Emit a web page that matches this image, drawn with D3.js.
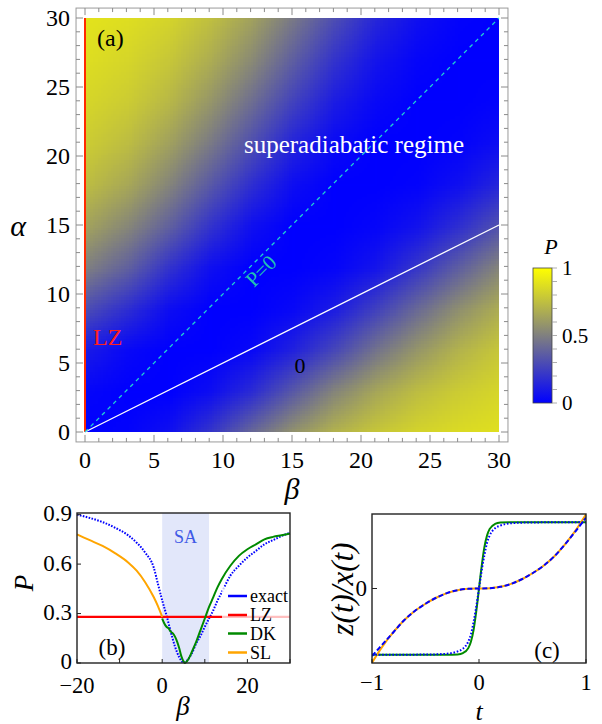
<!DOCTYPE html>
<html>
<head>
<meta charset="utf-8">
<script src="https://cdn.jsdelivr.net/npm/d3@7"></script>
<style>
body { margin: 0; background: #fff; }
svg { display: block; }
</style>
</head>
<body>
<div id="chart"></div>
<script>
var width = 602;
var height = 724;

// panel (a): P on a 3x3 grid of (beta, alpha), rows go up in alpha
var gridBeta = [0, 3, 6, 9, 12, 15, 18, 21, 24, 27, 30];
var gridAlpha = [0, 3, 6, 9, 12, 15, 18, 21, 24, 27, 30];
var gridP = [
    [0.00, 0.01, 0.06, 0.21, 0.41, 0.58, 0.70, 0.78, 0.83, 0.86, 0.88],
    [0.02, 0.00, 0.00, 0.05, 0.17, 0.35, 0.52, 0.65, 0.74, 0.80, 0.84],
    [0.10, 0.03, 0.00, 0.00, 0.03, 0.13, 0.28, 0.45, 0.59, 0.70, 0.78],
    [0.30, 0.18, 0.05, 0.00, 0.00, 0.03, 0.11, 0.25, 0.41, 0.56, 0.68],
    [0.50, 0.38, 0.20, 0.06, 0.00, 0.00, 0.02, 0.08, 0.21, 0.37, 0.52],
    [0.64, 0.53, 0.38, 0.20, 0.06, 0.00, 0.00, 0.02, 0.07, 0.18, 0.32],
    [0.74, 0.66, 0.52, 0.35, 0.18, 0.05, 0.00, 0.00, 0.01, 0.06, 0.15],
    [0.80, 0.74, 0.63, 0.48, 0.31, 0.14, 0.04, 0.00, 0.00, 0.01, 0.05],
    [0.84, 0.80, 0.72, 0.59, 0.43, 0.26, 0.11, 0.03, 0.00, 0.00, 0.01],
    [0.87, 0.84, 0.78, 0.68, 0.54, 0.37, 0.20, 0.08, 0.02, 0.00, 0.00],
    [0.89, 0.87, 0.83, 0.75, 0.63, 0.47, 0.30, 0.15, 0.06, 0.01, 0.00]
];
var ticksA = [0, 5, 10, 15, 20, 25, 30];
var colorbarTicks = [0, 0.5, 1];

// panel (b)
var exactBeta = [-20, -17, -14, -11, -8, -6, -4, -2, -1, 0, 1, 2, 3, 4, 5, 5.5, 6, 7, 8, 9, 10, 11, 12, 13, 14, 16, 18, 20, 22, 24, 26, 28, 30];
var exactP = [0.90, 0.88, 0.855, 0.82, 0.775, 0.73, 0.67, 0.58, 0.48, 0.38, 0.29, 0.19, 0.10, 0.035, 0.003, 0.005, 0.02, 0.06, 0.12, 0.165, 0.22, 0.27, 0.32, 0.38, 0.43, 0.53, 0.59, 0.64, 0.68, 0.72, 0.745, 0.77, 0.79];
var dkBeta = [0, 0.5, 1, 1.5, 2, 2.5, 3, 3.5, 4, 4.5, 5, 5.3, 5.8, 6.5, 7, 8, 9, 10, 11, 12, 13, 14, 16, 18, 20, 22, 24, 26, 28, 30];
var dkP = [0.27, 0.24, 0.22, 0.21, 0.19, 0.18, 0.16, 0.13, 0.09, 0.04, 0.01, 0.0, 0.01, 0.04, 0.07, 0.13, 0.20, 0.27, 0.34, 0.40, 0.46, 0.51, 0.59, 0.65, 0.69, 0.72, 0.75, 0.765, 0.775, 0.785];
var slBeta = [-20, -17, -14, -11, -8, -6, -4, -2, -1, 0];
var slP = [0.78, 0.745, 0.71, 0.665, 0.61, 0.56, 0.49, 0.40, 0.345, 0.28];
var lzP = 0.28;
var saRange = [0, 11];
var ticksBx = [-20, 0, 20];
var ticksBy = [0, 0.3, 0.6, 0.9];
var legendNames = ['exact', 'LZ', 'DK', 'SL'];

// panel (c)
var tCubic = [-1, -0.9, -0.8, -0.7, -0.6, -0.5, -0.4, -0.3, -0.2, -0.1, 0, 0.1, 0.2, 0.3, 0.4, 0.5, 0.6, 0.7, 0.8, 0.9, 1];
var slCubic = [-1.12, -0.87, -0.66, -0.48, -0.34, -0.23, -0.14, -0.07, -0.025, -0.005, 0, 0.005, 0.025, 0.07, 0.14, 0.23, 0.34, 0.48, 0.66, 0.87, 1.12];
var exactCubic = [-1.02, -0.84, -0.66, -0.48, -0.34, -0.23, -0.14, -0.07, -0.025, -0.005, 0, 0.005, 0.025, 0.07, 0.14, 0.23, 0.34, 0.48, 0.66, 0.86, 1.07];
var tStep = [-1, -0.5, -0.3, -0.2, -0.15, -0.1, -0.075, -0.05, -0.03, -0.015, 0, 0.015, 0.03, 0.05, 0.075, 0.1, 0.15, 0.2, 0.3, 0.5, 1];
var dkStep = [-1, -1, -1, -0.995, -0.975, -0.9, -0.8, -0.62, -0.4, -0.21, 0, 0.21, 0.4, 0.62, 0.8, 0.9, 0.975, 0.995, 1, 1, 1];
var exactStep = [-1, -0.998, -0.985, -0.95, -0.91, -0.8, -0.69, -0.5, -0.32, -0.165, 0, 0.165, 0.32, 0.5, 0.69, 0.8, 0.91, 0.95, 0.985, 0.998, 1];
var ticksCx = [-1, 0, 1];
var ticksCy = [0];

var blue = '#0000ff', red = '#ff0000', green = '#008a00', orange = '#ffa500';
var pColor = d3.interpolateRgb('#0000ff', '#ffff00');
var serif = '"Times New Roman", "Liberation Serif", Times, serif';

var svg = d3.select('#chart').append('svg')
    .attr('width', width)
    .attr('height', height)
    .attr('font-family', serif);
svg.append('rect').attr('width', width).attr('height', height).attr('fill', '#fff');

function label(x, y, txt, size, opts) {
    opts = opts || {};
    var t = svg.append('text')
        .attr('x', x).attr('y', y)
        .attr('text-anchor', opts.anchor || 'middle')
        .attr('dominant-baseline', 'central')
        .attr('font-size', size)
        .attr('fill', opts.fill || '#000')
        .text(txt);
    if (opts.italic) t.attr('font-style', 'italic');
    if (opts.rotate) {
        t.attr('x', null).attr('y', null)
            .attr('transform', 'translate(' + x + ',' + y + ') rotate(' + opts.rotate + ')');
    }
    return t;
}

// ---------- panel (a)
var xA = d3.scaleLinear().domain([0, 30]).range([85, 499]);
var yA = d3.scaleLinear().domain([0, 30]).range([432, 18]);

var canvas = document.createElement('canvas');
canvas.width = gridBeta.length;
canvas.height = gridAlpha.length;
var ctx = canvas.getContext('2d');
var img = ctx.createImageData(canvas.width, canvas.height);
for (var r = 0; r < gridAlpha.length; r++) {
    var row = gridP[gridAlpha.length - 1 - r];
    for (var c = 0; c < gridBeta.length; c++) {
        var col = d3.rgb(pColor(row[c]));
        var k = (r * canvas.width + c) * 4;
        img.data[k] = col.r; img.data[k + 1] = col.g; img.data[k + 2] = col.b; img.data[k + 3] = 255;
    }
}
ctx.putImageData(img, 0, 0);

var defs = svg.append('defs');
defs.append('clipPath').attr('id', 'clipA').append('rect')
    .attr('x', xA(0)).attr('y', yA(30))
    .attr('width', xA(30) - xA(0)).attr('height', yA(0) - yA(30));

var half = (gridBeta[1] - gridBeta[0]) / 2;
svg.append('image')
    .attr('clip-path', 'url(#clipA)')
    .attr('href', canvas.toDataURL())
    .attr('preserveAspectRatio', 'none')
    .attr('x', xA(-half)).attr('y', yA(30 + half))
    .attr('width', xA(30 + half) - xA(-half))
    .attr('height', yA(-half) - yA(30 + half));

// frame with ticks
var frameA = { x0: xA(-0.65), x1: xA(30.65), y0: yA(30.72), y1: yA(-0.72) };
svg.append('rect')
    .attr('x', frameA.x0).attr('y', frameA.y0)
    .attr('width', frameA.x1 - frameA.x0).attr('height', frameA.y1 - frameA.y0)
    .attr('fill', 'none').attr('stroke', '#9a9a9a').attr('stroke-width', 1);

var tickG = svg.append('g').attr('stroke', '#8a8a8a').attr('stroke-width', 1);
d3.range(0, 31, 1).forEach(function (v) {
    var len = v % 5 === 0 ? 7 : 4;
    tickG.append('line').attr('x1', xA(v)).attr('x2', xA(v)).attr('y1', frameA.y1).attr('y2', frameA.y1 - len);
    tickG.append('line').attr('x1', xA(v)).attr('x2', xA(v)).attr('y1', frameA.y0).attr('y2', frameA.y0 + len);
    tickG.append('line').attr('y1', yA(v)).attr('y2', yA(v)).attr('x1', frameA.x0).attr('x2', frameA.x0 + len);
    tickG.append('line').attr('y1', yA(v)).attr('y2', yA(v)).attr('x1', frameA.x1).attr('x2', frameA.x1 - len);
});

ticksA.forEach(function (v) {
    label(xA(v), 460, v, 24);
    label(70, yA(v), v, 24, { anchor: 'end' });
});
label(18, 225, 'α', 30, { italic: true });
label(292, 488, 'β', 30, { italic: true });

// overlay lines
svg.append('line')
    .attr('x1', xA(0)).attr('y1', yA(0)).attr('x2', xA(0)).attr('y2', yA(30))
    .attr('stroke', '#ff2a00').attr('stroke-width', 2);
svg.append('line')
    .attr('x1', xA(0)).attr('y1', yA(0)).attr('x2', xA(30)).attr('y2', yA(15))
    .attr('stroke', '#fff').attr('stroke-width', 1.3);
svg.append('line')
    .attr('x1', xA(0)).attr('y1', yA(0)).attr('x2', xA(30)).attr('y2', yA(30))
    .attr('stroke', '#1fd2d2').attr('stroke-width', 1.3)
    .attr('stroke-dasharray', '4,4');

label(97, 38, '(a)', 24, { anchor: 'start' });
label(354, 144, 'superadiabatic regime', 25, { fill: '#fff' });
label(261, 271, 'P=0', 21, { fill: '#22c2b2', rotate: -45 });
label(93, 337, 'LZ', 24, { anchor: 'start', fill: '#ff2020' });
label(300, 365, '0', 22);

// colorbar
var cbY = d3.scaleLinear().domain([0, 1]).range([403, 268]);
var grad = defs.append('linearGradient').attr('id', 'cbGrad')
    .attr('x1', 0).attr('y1', 1).attr('x2', 0).attr('y2', 0);
grad.append('stop').attr('offset', '0%').attr('stop-color', pColor(0));
grad.append('stop').attr('offset', '100%').attr('stop-color', pColor(1));
svg.append('rect')
    .attr('x', 533).attr('y', cbY(1)).attr('width', 19).attr('height', cbY(0) - cbY(1))
    .attr('fill', 'url(#cbGrad)').attr('stroke', '#444').attr('stroke-width', 0.8);
d3.range(0, 1.0001, 0.1).forEach(function (v) {
    svg.append('line').attr('x1', 552).attr('x2', 557)
        .attr('y1', cbY(v)).attr('y2', cbY(v))
        .attr('stroke', '#999').attr('stroke-width', 0.8);
});
colorbarTicks.forEach(function (v) {
    label(562, cbY(v), v, 21, { anchor: 'start' });
});
label(551, 246, 'P', 22, { italic: true });

// ---------- panel (b)
var xB = d3.scaleLinear().domain([-20, 30]).range([77, 290]);
var yB = d3.scaleLinear().domain([0, 0.91]).range([663, 513]);

svg.append('rect')
    .attr('x', xB(saRange[0])).attr('y', yB(0.91))
    .attr('width', xB(saRange[1]) - xB(saRange[0])).attr('height', yB(0) - yB(0.91))
    .attr('fill', '#e2e7fa');

var lineB = d3.line().curve(d3.curveMonotoneX)
    .x(function (d) { return xB(d[0]); })
    .y(function (d) { return yB(d[1]); });

svg.append('path').datum(d3.zip(exactBeta, exactP)).attr('d', lineB)
    .attr('fill', 'none').attr('stroke', blue).attr('stroke-width', 2)
    .attr('stroke-dasharray', '1.6,1.4');
svg.append('line')
    .attr('x1', xB(-20)).attr('x2', xB(30)).attr('y1', yB(lzP)).attr('y2', yB(lzP))
    .attr('stroke', red).attr('stroke-width', 2.2);
svg.append('path').datum(d3.zip(dkBeta, dkP)).attr('d', lineB)
    .attr('fill', 'none').attr('stroke', green).attr('stroke-width', 2);
svg.append('path').datum(d3.zip(slBeta, slP)).attr('d', lineB)
    .attr('fill', 'none').attr('stroke', orange).attr('stroke-width', 2);

label(xB(5.5), 537, 'SA', 18, { fill: '#3f5ae6' });

// legend
svg.append('rect').attr('x', 222).attr('y', 587).attr('width', 68).attr('height', 74)
    .attr('fill', '#fff').attr('opacity', 0.75);
var legendColors = [blue, red, green, orange];
var legendY = [596, 615, 633.5, 652.5];
legendNames.forEach(function (name, i) {
    svg.append('line').attr('x1', 228).attr('x2', 247)
        .attr('y1', legendY[i]).attr('y2', legendY[i])
        .attr('stroke', legendColors[i]).attr('stroke-width', 2.5);
    label(250, legendY[i], name, 18, { anchor: 'start' });
});

svg.append('rect')
    .attr('x', xB(-20)).attr('y', yB(0.91))
    .attr('width', xB(30) - xB(-20)).attr('height', yB(0) - yB(0.91))
    .attr('fill', 'none').attr('stroke', '#222').attr('stroke-width', 1.4);
d3.range(-20, 31, 10).forEach(function (v) {
    svg.append('line').attr('x1', xB(v)).attr('x2', xB(v))
        .attr('y1', yB(0)).attr('y2', yB(0) - 4).attr('stroke', '#222');
});
ticksBy.forEach(function (v) {
    svg.append('line').attr('x1', xB(-20)).attr('x2', xB(-20) + 4)
        .attr('y1', yB(v)).attr('y2', yB(v)).attr('stroke', '#222');
    label(72, yB(v) - (v === 0 ? 2 : 1), v === 0 ? '0' : v.toFixed(1), 23, { anchor: 'end' });
});
ticksBx.forEach(function (v) {
    label(xB(v), 685, v < 0 ? '\u2212' + Math.abs(v) : v, 22.5);
});
label(112, 647, '(b)', 23);
label(24, 583, 'P', 27, { italic: true, rotate: -90 });
label(183, 706, 'β', 27, { italic: true });

// ---------- panel (c)
var xC = d3.scaleLinear().domain([-1, 1]).range([372, 586]);
var yC = d3.scaleLinear().domain([-1.125, 1.125]).range([663, 514]);

var lineC = d3.line().curve(d3.curveMonotoneX)
    .x(function (d) { return xC(d[0]); })
    .y(function (d) { return yC(d[1]); });

defs.append('clipPath').attr('id', 'clipC').append('rect')
    .attr('x', xC(-1)).attr('y', yC(1.125))
    .attr('width', xC(1) - xC(-1)).attr('height', yC(-1.125) - yC(1.125));
var gC = svg.append('g').attr('clip-path', 'url(#clipC)');

gC.append('path').datum(d3.zip(tStep, dkStep)).attr('d', lineC)
    .attr('fill', 'none').attr('stroke', green).attr('stroke-width', 2);
gC.append('path').datum(d3.zip(tCubic, slCubic)).attr('d', lineC)
    .attr('fill', 'none').attr('stroke', orange).attr('stroke-width', 2);
gC.append('path').datum(d3.zip(tStep, exactStep)).attr('d', lineC)
    .attr('fill', 'none').attr('stroke', blue).attr('stroke-width', 2)
    .attr('stroke-dasharray', '1.6,1.8');
gC.append('path').datum(d3.zip(tCubic, exactCubic)).attr('d', lineC)
    .attr('fill', 'none').attr('stroke', blue).attr('stroke-width', 2)
    .attr('stroke-dasharray', '5,2.5');

svg.append('rect')
    .attr('x', xC(-1)).attr('y', yC(1.125))
    .attr('width', xC(1) - xC(-1)).attr('height', yC(-1.125) - yC(1.125))
    .attr('fill', 'none').attr('stroke', '#222').attr('stroke-width', 1.4);
ticksCx.forEach(function (v) {
    svg.append('line').attr('x1', xC(v)).attr('x2', xC(v))
        .attr('y1', yC(-1.125)).attr('y2', yC(-1.125) - 4).attr('stroke', '#222');
    label(xC(v), 682, v < 0 ? '\u2212' + Math.abs(v) : v, 22.5);
});
ticksCy.forEach(function (v) {
    svg.append('line').attr('x1', xC(-1)).attr('x2', xC(-1) + 5)
        .attr('y1', yC(v)).attr('y2', yC(v)).attr('stroke', '#222');
    label(367, yC(v), v, 23, { anchor: 'end' });
});
label(547, 650, '(c)', 23);
label(342, 589, 'z(t)/x(t)', 31, { italic: true, rotate: -90 });
label(479, 711, 't', 26, { italic: true });
</script>
</body>
</html>
